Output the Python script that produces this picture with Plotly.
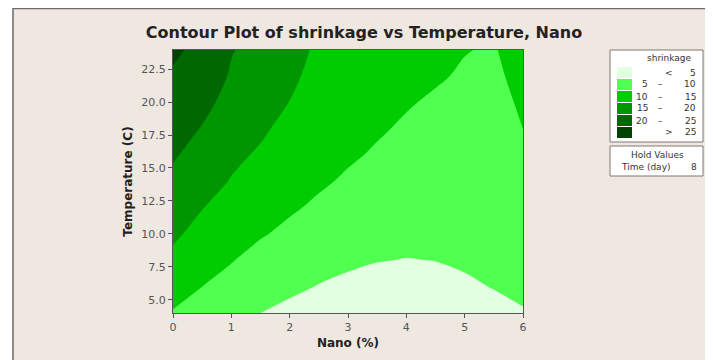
import plotly.graph_objects as go

# ---- data ----
nano = [0, 0.5, 1, 1.5, 2, 2.5, 3, 3.5, 4, 4.5, 5, 5.5, 6]
temperature = [4, 6, 8, 10, 12, 14, 16, 18, 20, 22, 24]
shrink_t4 = [9.7, 8.5, 7.0, 5.0, 4.1, 3.4, 3.0, 2.8, 2.9, 3.2, 3.7, 4.2, 4.8]
shrink_t6 = [11.8, 10.0, 8.6, 6.8, 5.7, 4.85, 4.3, 3.95, 3.9, 4.12, 4.6, 5.1, 5.62]
shrink_t8 = [13.9, 11.7, 10.2, 8.6, 7.35, 6.3, 5.55, 5.1, 4.92, 5.04, 5.35, 5.6, 6.35]
shrink_t10 = [15.8, 13.45, 11.7, 10.35, 9.1, 7.7, 6.85, 6.2, 5.83, 5.8, 5.95, 6.1, 7.1]
shrink_t12 = [17.4, 15.15, 13.2, 11.7, 10.5, 9.35, 8.2, 7.35, 6.8, 6.55, 6.6, 6.65, 7.8]
shrink_t14 = [19.0, 16.7, 14.78, 13.1, 11.6, 10.55, 9.5, 8.5, 7.75, 7.3, 7.2, 7.2, 8.55]
shrink_t16 = [20.5, 18.2, 15.9, 14.5, 12.7, 11.6, 10.5, 9.6, 8.7, 8.1, 7.85, 7.7, 9.3]
shrink_t18 = [21.8, 19.8, 17.3, 15.65, 13.8, 12.55, 11.25, 10.4, 9.55, 9.0, 8.5, 8.2, 10.02]
shrink_t20 = [23.1, 21.2, 18.6, 16.65, 14.95, 13.3, 11.9, 11.0, 10.3, 9.55, 9.15, 8.7, 10.6]
shrink_t22 = [24.5, 22.5, 19.6, 17.6, 15.7, 13.9, 12.5, 11.5, 10.7, 10.4, 9.6, 9.2, 11.3]
shrink_t24 = [25.8, 23.8, 20.25, 18.5, 16.4, 14.4, 13.0, 11.9, 11.0, 10.5, 10.15, 9.7, 12.0]
shrinkage = [shrink_t4, shrink_t6, shrink_t8, shrink_t10, shrink_t12, shrink_t14,
             shrink_t16, shrink_t18, shrink_t20, shrink_t22, shrink_t24]

levels = [5, 10, 15, 20, 25]
band_labels = [("", "<", "5"), ("5", "–", "10"), ("10", "–", "15"),
               ("15", "–", "20"), ("20", "–", "25"), ("", ">", "25")]
band_colors = ["#E2FFE2", "#50FF50", "#00CC00", "#009600", "#006800", "#004200"]
x_ticks = [0, 1, 2, 3, 4, 5, 6]
y_ticks = [5.0, 7.5, 10.0, 12.5, 15.0, 17.5, 20.0, 22.5]
hold_time = 8

# stepped colour scale so each band gets exactly one colour
bounds = [0, 0.1, 0.3, 0.5, 0.7, 0.9, 1.0]
colorscale = []
for i, c in enumerate(band_colors):
    colorscale.append([bounds[i], c])
    colorscale.append([bounds[i + 1], c])

# page is shown with an 8px body margin: work in page pixels, convert
OFF = 8
PAGE_W, PAGE_H = 713, 360
W, H = PAGE_W - OFF, PAGE_H - OFF
L, R, T, B = 173, 523, 50, 313  # plot area in page pixels


def px(p):
    return (p - L) / (R - L)


def py(p):
    return (B - p) / (B - T)


fig = go.Figure(go.Contour(
    x=nano, y=temperature, z=shrinkage,
    colorscale=colorscale, showscale=False,
    autocontour=False,
    contours=dict(start=levels[0], end=levels[-1], size=5, coloring="fill"),
    line=dict(width=0, smoothing=1.0),
    hoverinfo="skip",
))

font_main = "DejaVu Sans"
shapes = [
    # beige page with frame
    dict(type="rect", xref="paper", yref="paper", x0=px(13), x1=px(PAGE_W + 5),
         y0=py(PAGE_H + 5), y1=py(OFF + 0.6), fillcolor="#EFE8E1",
         line=dict(color="#6E6A66", width=1.5), layer="below"),
    # legend box
    dict(type="rect", xref="paper", yref="paper", x0=px(610), x1=px(703),
         y0=py(142), y1=py(50), fillcolor="#FFFFFF",
         line=dict(color="#7A7A7A", width=1)),
    # hold values box
    dict(type="rect", xref="paper", yref="paper", x0=px(610), x1=px(703),
         y0=py(176), y1=py(146), fillcolor="#FFFFFF",
         line=dict(color="#7A7A7A", width=1)),
]

lf = dict(family=font_main, size=9, color="#333")
annotations = [
    dict(text="shrinkage", x=px(694), y=py(58), xref="paper", yref="paper",
         xanchor="right", yanchor="middle", showarrow=False, font=lf),
    dict(text="Hold Values", x=px(657), y=py(155), xref="paper", yref="paper",
         xanchor="center", yanchor="middle", showarrow=False, font=lf),
    dict(text="Time (day)", x=px(645), y=py(167), xref="paper", yref="paper",
         xanchor="center", yanchor="middle", showarrow=False, font=lf),
    dict(text=str(hold_time), x=px(699), y=py(167), xref="paper", yref="paper",
         xanchor="right", yanchor="middle", showarrow=False, font=lf),
]

row0, row_step = 72.5, 12
for i, (lo, sep, hi) in enumerate(band_labels):
    yc = row0 + i * row_step
    shapes.append(dict(type="rect", xref="paper", yref="paper",
                       x0=px(617), x1=px(632), y0=py(yc + 5.5), y1=py(yc - 5.5),
                       fillcolor=band_colors[i], line=dict(width=0)))
    if lo:
        annotations.append(dict(text=lo, x=px(650), y=py(yc), xref="paper", yref="paper",
                                xanchor="right", yanchor="middle", showarrow=False, font=lf))
        annotations.append(dict(text=sep, x=px(660), y=py(yc), xref="paper", yref="paper",
                                xanchor="center", yanchor="middle", showarrow=False, font=lf))
    else:
        annotations.append(dict(text=sep, x=px(669), y=py(yc), xref="paper", yref="paper",
                                xanchor="center", yanchor="middle", showarrow=False, font=lf))
    annotations.append(dict(text=hi, x=px(698), y=py(yc), xref="paper", yref="paper",
                            xanchor="right", yanchor="middle", showarrow=False, font=lf))

fig.update_layout(
    width=W, height=H,
    margin=dict(l=L - OFF, r=PAGE_W - R, t=T - OFF, b=PAGE_H - B, pad=0),
    paper_bgcolor="#FFFFFF", plot_bgcolor="#FFFFFF",
    title=dict(text="<b>Contour Plot of shrinkage vs Temperature, Nano</b>",
               x=((143 + 585) / 2 - OFF) / W, xanchor="center",
               y=1 - (32 - OFF) / H, yanchor="middle",
               font=dict(family=font_main, size=16, color="#222")),
    xaxis=dict(range=[0, 6], tickvals=x_ticks, ticktext=[str(v) for v in x_ticks],
               ticks="outside", ticklen=4, tickcolor="#555", showgrid=False, zeroline=False,
               showline=True, linecolor="#555", mirror=True,
               tickfont=dict(family=font_main, size=11, color="#555"),
               title=dict(text="<b>Nano (%)</b>", standoff=5,
                          font=dict(family=font_main, size=12, color="#222"))),
    yaxis=dict(range=[4, 23.95], tickvals=y_ticks, ticktext=[f"{v:.1f}" for v in y_ticks],
               ticks="outside", ticklen=4, tickcolor="#555", showgrid=False, zeroline=False,
               showline=True, linecolor="#555", mirror=True,
               tickfont=dict(family=font_main, size=11, color="#555"),
               title=dict(text="<b>Temperature (C)</b>", standoff=6,
                          font=dict(family=font_main, size=12, color="#222"))),
    shapes=shapes, annotations=annotations,
)

fig.write_html("out.html")
